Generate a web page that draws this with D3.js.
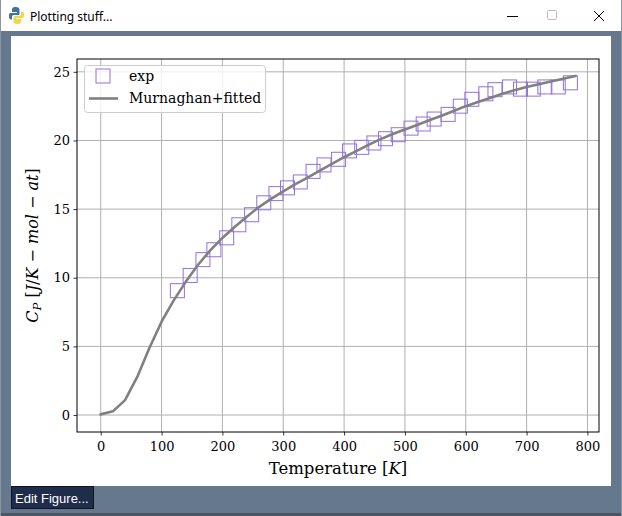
<!DOCTYPE html>
<html><head><meta charset="utf-8">
<script src="https://cdn.jsdelivr.net/npm/d3@7"></script>
<style>
html,body{margin:0;padding:0;background:#fff;}
svg{display:block;}
</style></head><body>
<svg id="c" width="622" height="516"></svg>
<script>
// ---- data ----
const expT  = [126,147,168,186,207,227,248,268,288,307,328,349,367,391,409,429,449,468,489,510,530,548,571,591,610,633,648,672,690,711,730,752,772];
const expCp = [9.06,10.17,11.32,12.04,12.91,13.86,14.59,15.46,16.13,16.55,16.98,17.75,18.22,18.63,19.24,19.5,19.82,20.13,20.42,20.9,21.2,21.56,21.9,22.5,23.0,23.4,23.7,23.9,23.74,23.74,23.9,23.9,24.2];
const fitT  = [0,20,40,60,80,100,120,140,160,180,200,220,240,260,280,300,320,340,360,380,400,420,440,460,480,500,520,540,560,580,600,620,640,660,680,700,720,740,760,780];
const fitCp = [0.05,0.27,1.09,2.78,4.88,6.8,8.35,9.72,10.95,12.0,12.9,13.7,14.45,15.15,15.75,16.3,16.82,17.3,17.8,18.3,18.78,19.22,19.68,20.1,20.47,20.8,21.13,21.47,21.8,22.15,22.5,22.8,23.1,23.4,23.65,23.9,24.1,24.3,24.5,24.7];
const xTicks = [0,100,200,300,400,500,600,700,800];
const yTicks = [0,5,10,15,20,25];
const legendLabels = ["exp","Murnaghan+fitted"];
const windowTitle = "Plotting stuff...";

const svg = d3.select("#c");
const serif = "'DejaVu Serif', serif";

// ---- window chrome ----
svg.append("rect").attr("x",0).attr("y",0).attr("width",622).attr("height",516).attr("fill","#66788e");
svg.append("rect").attr("x",0).attr("y",0).attr("width",622).attr("height",31).attr("fill","#ffffff");
svg.append("rect").attr("x",0).attr("y",513).attr("width",622).attr("height",3).attr("fill","#4a5566");
svg.append("rect").attr("x",0).attr("y",0).attr("width",1).attr("height",516).attr("fill","#8a96a6");
svg.append("rect").attr("x",621).attr("y",0).attr("width",1).attr("height",516).attr("fill","#8a96a6");
// python icon
const ic = svg.append("g").attr("transform","translate(9,7)");
ic.append("path").attr("d","M7 0 C3 0 3 2 3 3 L3 5 L8 5 L8 6 L1.5 6 C0 6 0 8 0 9.5 C0 11 0.5 12.5 2 12.5 L3 12.5 L3 10 C3 8.5 4 8 5 8 L9 8 C10 8 10.5 7.5 10.5 6.5 L10.5 3 C10.5 1 9 0 7 0 Z").attr("fill","#3d72a4");
ic.append("path").attr("d","M8 17 C12 17 12 15 12 14 L12 12 L7 12 L7 11 L13.5 11 C15 11 15 9 15 7.5 C15 6 14.5 4.5 13 4.5 L12 4.5 L12 7 C12 8.5 11 9 10 9 L6 9 C5 9 4.5 9.5 4.5 10.5 L4.5 14 C4.5 16 6 17 8 17 Z").attr("fill","#f7d34a");
svg.append("text").attr("x",30).attr("y",20.5).attr("font-family","'Noto Sans','Open Sans',sans-serif").attr("font-size",12).attr("fill","#000").text(windowTitle);
// controls
svg.append("line").attr("x1",507).attr("x2",518).attr("y1",16.5).attr("y2",16.5).attr("stroke","#000").attr("stroke-width",1);
svg.append("rect").attr("x",547.5).attr("y",10.5).attr("width",9).attr("height",9).attr("rx",1).attr("fill","none").attr("stroke","#bcbcbc");
svg.append("path").attr("d","M594 11 L604 21 M604 11 L594 21").attr("stroke","#000").attr("stroke-width",1);
// canvas
svg.append("rect").attr("x",11).attr("y",36).attr("width",600).attr("height",450).attr("fill","#ffffff");
// button
svg.append("rect").attr("x",11.5).attr("y",486.5).attr("width",82).attr("height",22).attr("fill","#1f2d4b").attr("stroke","#0d1424");
svg.append("text").attr("x",15).attr("y",502.5).attr("font-family","'Liberation Sans','DejaVu Sans',sans-serif").attr("font-size",13).attr("fill","#ffffff").text("Edit Figure...");

// ---- axes ----
const L=77, R=599, T=59, B=432;
const x = d3.scaleLinear().domain([-39,819]).range([L,R]);
const y = d3.scaleLinear().domain([-1.235,25.935]).range([B,T]);

const grid = svg.append("g");
xTicks.forEach(t=>grid.append("line").attr("x1",x(t)).attr("x2",x(t)).attr("y1",T).attr("y2",B).attr("stroke","#b0b0b0").attr("stroke-width",1));
yTicks.forEach(t=>grid.append("line").attr("x1",L).attr("x2",R).attr("y1",y(t)).attr("y2",y(t)).attr("stroke","#b0b0b0").attr("stroke-width",1));

const plot = svg.append("g");
svg.append("clipPath").attr("id","pc").append("rect").attr("x",L).attr("y",T).attr("width",R-L).attr("height",B-T);
const pg = plot.append("g").attr("clip-path","url(#pc)");

// exp squares
pg.selectAll("rect.e").data(expT.map((t,i)=>[t,expCp[i]])).enter().append("rect")
  .attr("x",d=>x(d[0])-7).attr("y",d=>y(d[1])-7).attr("width",14).attr("height",14)
  .attr("fill","none").attr("stroke","#9370db").attr("stroke-width",1);

// fitted line
const line = d3.line().x(d=>x(d[0])).y(d=>y(d[1]));
pg.append("path").datum(fitT.map((t,i)=>[t,fitCp[i]])).attr("d",line)
  .attr("fill","none").attr("stroke","#808080").attr("stroke-width",2.6).attr("stroke-linejoin","round").attr("stroke-linecap","square");

// axes with d3
const xAxis = d3.axisBottom(x).tickValues(xTicks).tickSize(3.5).tickPadding(3.5).tickFormat(d3.format("d"));
const gx = svg.append("g").attr("transform",`translate(0,${B})`).call(xAxis);
const yAxis = d3.axisLeft(y).tickValues(yTicks).tickSize(3.5).tickPadding(3.5).tickFormat(d3.format("d"));
const gy = svg.append("g").attr("transform",`translate(${L},0)`).call(yAxis);
[gx,gy].forEach(g=>{
  g.select(".domain").remove();
  g.selectAll(".tick line").attr("stroke","#000").attr("stroke-width",0.8);
  g.selectAll(".tick text").attr("font-family",serif).attr("font-size",13).attr("fill","#000");
});
gx.selectAll(".tick text").attr("dy","0.9em");
// frame
svg.append("rect").attr("x",L).attr("y",T).attr("width",R-L).attr("height",B-T).attr("fill","none").attr("stroke","#000").attr("stroke-width",1);

// axis labels
const xl = svg.append("text").attr("x",(L+R)/2).attr("y",474).attr("text-anchor","middle").attr("font-family",serif).attr("font-size",16.5).attr("fill","#000");
xl.append("tspan").text("Temperature [");
xl.append("tspan").attr("font-style","italic").text("K");
xl.append("tspan").text("]");

const yl = svg.append("text").attr("transform",`translate(38,${(T+B)/2}) rotate(-90)`).attr("text-anchor","middle").attr("font-family",serif).attr("font-size",16).attr("fill","#000");
yl.append("tspan").attr("font-style","italic").text("C");
yl.append("tspan").attr("font-style","italic").attr("font-size",11.5).attr("dy",3).text("P");
yl.append("tspan").attr("dy",-3).text(" [");
yl.append("tspan").attr("font-style","italic").text("J");
yl.append("tspan").text("/");
yl.append("tspan").attr("font-style","italic").text("K");
yl.append("tspan").text(" − ");
yl.append("tspan").attr("font-style","italic").text("mol");
yl.append("tspan").text(" − ");
yl.append("tspan").attr("font-style","italic").text("at");
yl.append("tspan").text("]");

// legend
const lg = svg.append("g");
lg.append("rect").attr("x",84.5).attr("y",65.5).attr("width",181).attr("height",47).attr("rx",3)
  .attr("fill","#ffffff").attr("fill-opacity",0.8).attr("stroke","#cccccc").attr("stroke-width",1);
lg.append("rect").attr("x",96).attr("y",69).attr("width",14).attr("height",14).attr("fill","none").attr("stroke","#9370db");
lg.append("line").attr("x1",89).attr("x2",118).attr("y1",98.5).attr("y2",98.5).attr("stroke","#808080").attr("stroke-width",2.6);
lg.append("text").attr("x",129).attr("y",81).attr("font-family",serif).attr("font-size",14).attr("fill","#000").text(legendLabels[0]);
lg.append("text").attr("x",129).attr("y",103).attr("font-family",serif).attr("font-size",14).attr("fill","#000").text(legendLabels[1]);
</script>
</body></html>
